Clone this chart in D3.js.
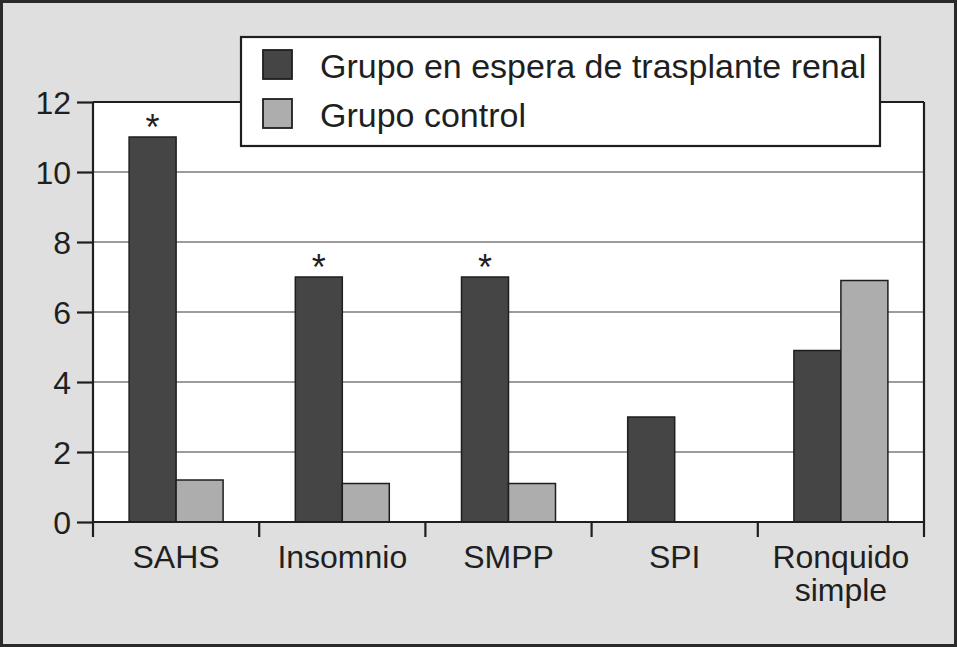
<!DOCTYPE html>
<html>
<head>
<meta charset="utf-8">
<script src="https://cdn.jsdelivr.net/npm/d3@7"></script>
<style>
  html, body { margin: 0; padding: 0; background: #fff; }
  svg text { font-family: "Liberation Sans", Arial, sans-serif; fill: #1f1f1f; }
</style>
</head>
<body>
<svg id="chart" width="957" height="647"></svg>
<script>
const categories = ["SAHS", "Insomnio", "SMPP", "SPI", "Ronquido simple"];
const seriesNames = ["Grupo en espera de trasplante renal", "Grupo control"];
const trasplante = [11, 7, 7, 3, 4.9];
const control = [1.2, 1.1, 1.1, 0, 6.9];
const significant = [true, true, true, false, false];
const yTicks = [0, 2, 4, 6, 8, 10, 12];
const colors = ["#454545", "#adadad"];

const W = 957, H = 647;
const margin = { top: 102, right: 33, bottom: 125, left: 93 };
const x0 = margin.left, x1 = W - margin.right;
const yTop = margin.top, yBot = H - margin.bottom;

const svg = d3.select("#chart");

// outer frame
svg.append("rect")
  .attr("x", 1.5).attr("y", 1.5)
  .attr("width", W - 3).attr("height", H - 3)
  .attr("fill", "#dfdfdf")
  .attr("stroke", "#2a2a2a").attr("stroke-width", 3);

const x = d3.scaleBand().domain(categories).range([x0, x1]);
const xs = d3.scaleBand().domain([0, 1]).range([0, 94]);
const y = d3.scaleLinear().domain([0, 12]).range([yBot, yTop]);

// plot area
svg.append("rect")
  .attr("x", x0).attr("y", yTop)
  .attr("width", x1 - x0).attr("height", yBot - yTop)
  .attr("fill", "#fff");

// gridlines
svg.append("g")
  .selectAll("line")
  .data(yTicks.filter((d) => d > 0 && d < 12))
  .join("line")
  .attr("x1", x0).attr("x2", x1)
  .attr("y1", (d) => y(d)).attr("y2", (d) => y(d))
  .attr("stroke", "#3a3a3a").attr("stroke-width", 1.2);

// bars
const rows = categories.map((c, i) => ({ c, vals: [trasplante[i], control[i]], sig: significant[i] }));
const groups = svg.append("g")
  .selectAll("g")
  .data(rows)
  .join("g")
  .attr("transform", (d) => `translate(${x(d.c) + (x.bandwidth() - 94) / 2},0)`);

groups.selectAll("rect")
  .data((d) => d.vals.filter((v) => v > 0).map((v, k) => ({ v, k })))
  .join("rect")
  .attr("x", (d) => xs(d.k))
  .attr("y", (d) => y(d.v))
  .attr("width", xs.bandwidth())
  .attr("height", (d) => yBot - y(d.v))
  .attr("fill", (d) => colors[d.k])
  .attr("stroke", "#1e1e1e").attr("stroke-width", 1.5);

groups.filter((d) => d.sig)
  .append("text")
  .attr("x", xs(0) + xs.bandwidth() / 2)
  .attr("y", (d) => y(d.vals[0]) + 3)
  .attr("text-anchor", "middle")
  .attr("font-size", 36)
  .text("*");

// frame lines (top, right)
const frame = svg.append("g").attr("stroke", "#1e1e1e").attr("stroke-width", 2.2);
frame.append("line").attr("x1", x0).attr("x2", x1).attr("y1", yTop).attr("y2", yTop);
frame.append("line").attr("x1", x1).attr("x2", x1).attr("y1", yTop).attr("y2", yBot + 15);

// y axis
const yAxis = svg.append("g")
  .attr("transform", `translate(${x0},0)`)
  .call(d3.axisLeft(y).tickValues(yTicks).tickSize(16).tickPadding(6))
  .call((g) => g.select(".domain").remove());
yAxis.selectAll("line").attr("stroke", "#1e1e1e").attr("stroke-width", 2.2);
yAxis.selectAll("text").attr("font-size", 32).attr("fill", "#1f1f1f").attr("dy", "0.36em");
frame.append("line").attr("x1", x0).attr("x2", x0).attr("y1", yTop).attr("y2", yBot + 15);

// x axis
const xAxis = svg.append("g").attr("transform", `translate(0,${yBot})`);
xAxis.append("line").attr("x1", x0).attr("x2", x1)
  .attr("stroke", "#1e1e1e").attr("stroke-width", 2.2);
xAxis.selectAll("line.tick")
  .data(categories.slice(1))
  .join("line")
  .attr("class", "tick")
  .attr("x1", (d) => x(d)).attr("x2", (d) => x(d))
  .attr("y1", 0).attr("y2", 15)
  .attr("stroke", "#1e1e1e").attr("stroke-width", 2.2);
xAxis.selectAll("text")
  .data(categories)
  .join("text")
  .attr("x", (d) => x(d) + x.bandwidth() / 2)
  .attr("y", 46)
  .attr("text-anchor", "middle")
  .attr("font-size", 32)
  .each(function (d) {
    const words = d.split(" ");
    d3.select(this).selectAll("tspan")
      .data(words)
      .join("tspan")
      .attr("x", x(d) + x.bandwidth() / 2)
      .attr("dy", (w, i) => (i === 0 ? 0 : 33))
      .text((w) => w);
  });

// legend
const leg = svg.append("g").attr("transform", "translate(241,37)");
leg.append("rect")
  .attr("width", 639).attr("height", 109)
  .attr("fill", "#fff").attr("stroke", "#1e1e1e").attr("stroke-width", 2.2);
const items = leg.selectAll("g.item")
  .data(seriesNames)
  .join("g")
  .attr("class", "item")
  .attr("transform", (d, i) => `translate(22,${13 + i * 49})`);
items.append("rect")
  .attr("width", 29).attr("height", 29)
  .attr("fill", (d, i) => colors[i])
  .attr("stroke", "#1e1e1e").attr("stroke-width", 1.8);
items.append("text")
  .attr("x", 57).attr("y", 16).attr("dy", "0.36em")
  .attr("font-size", 34)
  .text((d) => d);
</script>
</body>
</html>
